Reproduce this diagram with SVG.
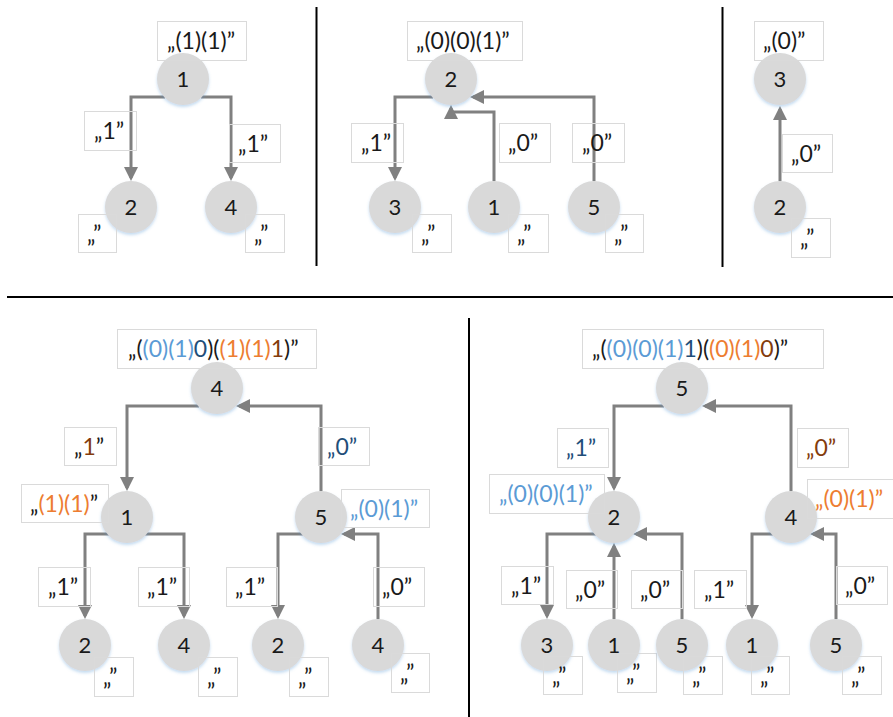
<svg xmlns="http://www.w3.org/2000/svg" width="893" height="717" viewBox="0 0 893 717">
  <style>
    text { font-family: Lato, "Liberation Sans", sans-serif; font-size: 23px; fill: #1a1a1a; }
    .node circle { fill: #d9d9d9; filter: url(#glow); }
    .num { text-anchor: middle; font-size: 22px; }
    .box { fill: none; stroke: #dadada; stroke-width: 1; }
    .edge { fill: none; stroke: #808080; stroke-width: 3; marker-end: url(#arrow); }
    .divider { stroke: #000; stroke-width: 2; }
    .lb { fill: #5b9bd5; }
    .db { fill: #1f4e79; }
    .or { fill: #ed7d31; }
    .br { fill: #843c0c; }
  </style>
  <defs>
    <marker id="arrow" markerUnits="userSpaceOnUse" markerWidth="14" markerHeight="14" viewBox="0 0 14 14" refX="11" refY="7" orient="auto">
      <path d="M0,0 L14,7 L0,14 z" fill="#808080"/>
    </marker>
    <filter id="glow" x="-30%" y="-30%" width="160%" height="170%">
      <feDropShadow dx="0" dy="2" stdDeviation="1.5" flood-color="#5b9bd5" flood-opacity="0.35"/>
    </filter>
  </defs>

  <!-- panel dividers -->
  <g id="dividers">
    <line class="divider" x1="316.5" y1="7" x2="316.5" y2="266"/>
    <line class="divider" x1="722.5" y1="7" x2="722.5" y2="267"/>
    <line class="divider" x1="7" y1="297" x2="893" y2="297"/>
    <line class="divider" x1="469" y1="318" x2="469" y2="717"/>
  </g>

  <!-- connectors -->
  <g id="connectors">
    <!-- tree A -->
    <path class="edge" d="M165,97 H131 V178"/>
    <path class="edge" d="M201,97 H231 V178"/>
    <!-- tree B -->
    <path class="edge" d="M433,97 H395 V178"/>
    <path class="edge" d="M494,181 V112 H451 V108"/>
    <path class="edge" d="M594,181 V97 H473"/>
    <!-- tree C -->
    <path class="edge" d="M780,181 V109"/>
    <!-- tree D -->
    <path class="edge" d="M199,406 H127 V488"/>
    <path class="edge" d="M321,491 V406 H239"/>
    <path class="edge" d="M109,534 H85 V616"/>
    <path class="edge" d="M145,534 H184 V616"/>
    <path class="edge" d="M303,534 H278 V616"/>
    <path class="edge" d="M378,619 V534 H344"/>
    <!-- tree E -->
    <path class="edge" d="M664,406 H614 V488"/>
    <path class="edge" d="M791,491 V406 H705"/>
    <path class="edge" d="M596,534 H547 V616"/>
    <path class="edge" d="M614,619 V546"/>
    <path class="edge" d="M682,619 V534 H636"/>
    <path class="edge" d="M773,534 H752 V616"/>
    <path class="edge" d="M836,619 V534 H813"/>
  </g>

  <!-- tree A -->
  <g id="a-n1" class="node">
    <circle cx="183" cy="79" r="26"/><text class="num" x="183" y="86.5">1</text>
    <rect class="box" x="157.5" y="21.5" width="89" height="39"/><text x="167" y="49">„(1)(1)”</text>
  </g>
  <g id="a-n2" class="node">
    <circle cx="131" cy="207" r="26"/><text class="num" x="131" y="214.5">2</text>
    <rect class="box" x="78.5" y="214.5" width="38" height="38"/><text x="87" y="242">„”</text>
  </g>
  <g id="a-n4" class="node">
    <circle cx="231" cy="207" r="26"/><text class="num" x="231" y="214.5">4</text>
    <rect class="box" x="245.5" y="214.5" width="39" height="38"/><text x="254" y="242">„”</text>
  </g>
  <g id="a-edge-labels">
    <rect class="box" x="84.5" y="111.5" width="52" height="39"/><text x="94" y="139">„1”</text>
    <rect class="box" x="229.5" y="124.5" width="51" height="38"/><text x="238" y="152">„1”</text>
  </g>

  <!-- tree B -->
  <g id="b-n2" class="node">
    <circle cx="451" cy="79" r="26"/><text class="num" x="451" y="86.5">2</text>
    <rect class="box" x="407.5" y="21.5" width="115" height="39"/><text x="416" y="49">„(0)(0)(1)”</text>
  </g>
  <g id="b-n3" class="node">
    <circle cx="395" cy="207" r="26"/><text class="num" x="395" y="214.5">3</text>
    <rect class="box" x="412.5" y="214.5" width="39" height="38"/><text x="421" y="242">„”</text>
  </g>
  <g id="b-n1" class="node">
    <circle cx="494" cy="207" r="26"/><text class="num" x="494" y="214.5">1</text>
    <rect class="box" x="508.5" y="214.5" width="40" height="38"/><text x="517" y="242">„”</text>
  </g>
  <g id="b-n5" class="node">
    <circle cx="594" cy="207" r="26"/><text class="num" x="594" y="214.5">5</text>
    <rect class="box" x="605.5" y="214.5" width="38" height="38"/><text x="614" y="242">„”</text>
  </g>
  <g id="b-edge-labels">
    <rect class="box" x="351.5" y="123.5" width="52" height="39"/><text x="361" y="151">„1”</text>
    <rect class="box" x="499.5" y="123.5" width="51" height="39"/><text x="508" y="151">„0”</text>
    <rect class="box" x="572.5" y="123.5" width="52" height="39"/><text x="582" y="151">„0”</text>
  </g>

  <!-- tree C -->
  <g id="c-n3" class="node">
    <circle cx="780" cy="79" r="26"/><text class="num" x="780" y="86.5">3</text>
    <rect class="box" x="754.5" y="21.5" width="69" height="39"/><text x="763" y="49">„(0)”</text>
  </g>
  <g id="c-n2" class="node">
    <circle cx="780" cy="207" r="26"/><text class="num" x="780" y="214.5">2</text>
    <rect class="box" x="791.5" y="218.5" width="39" height="39"/><text x="800" y="246">„”</text>
  </g>
  <g id="c-edge-labels">
    <rect class="box" x="782.5" y="134.5" width="50" height="38"/><text x="791" y="162">„0”</text>
  </g>

  <!-- tree D -->
  <g id="d-n4" class="node">
    <circle cx="217" cy="388" r="26"/><text class="num" x="217" y="395.5">4</text>
    <rect class="box" x="117.5" y="329.5" width="199" height="39"/>
    <text x="128" y="357">„(<tspan class="lb">(0)(1)</tspan><tspan class="db">0</tspan>)(<tspan class="or">(1)(1)</tspan><tspan class="br">1</tspan>)”</text>
  </g>
  <g id="d-n1" class="node">
    <circle cx="127" cy="517" r="26"/><text class="num" x="127" y="524.5">1</text>
    <rect class="box" x="21.5" y="484.5" width="87" height="38"/>
    <text x="30" y="512">„<tspan class="or">(1)(1)</tspan>”</text>
  </g>
  <g id="d-n5" class="node">
    <circle cx="321" cy="517" r="26"/><text class="num" x="321" y="524.5">5</text>
    <rect class="box" x="341.5" y="489.5" width="88" height="38"/>
    <text class="lb" x="350" y="517">„(0)(1)”</text>
  </g>
  <g id="d-n2a" class="node">
    <circle cx="85" cy="645" r="26"/><text class="num" x="85" y="652.5">2</text>
    <rect class="box" x="94.5" y="657.5" width="39" height="39"/><text x="103" y="685">„”</text>
  </g>
  <g id="d-n4a" class="node">
    <circle cx="184" cy="645" r="26"/><text class="num" x="184" y="652.5">4</text>
    <rect class="box" x="198.5" y="657.5" width="39" height="39"/><text x="207" y="685">„”</text>
  </g>
  <g id="d-n2b" class="node">
    <circle cx="278" cy="645" r="26"/><text class="num" x="278" y="652.5">2</text>
    <rect class="box" x="289.5" y="657.5" width="39" height="39"/><text x="298" y="685">„”</text>
  </g>
  <g id="d-n4b" class="node">
    <circle cx="378" cy="645" r="26"/><text class="num" x="378" y="652.5">4</text>
    <rect class="box" x="391.5" y="653.5" width="38" height="39"/><text x="400" y="681">„”</text>
  </g>
  <g id="d-edge-labels">
    <rect class="box" x="64.5" y="427.5" width="52" height="38"/><text x="74" y="455">„<tspan class="br">1</tspan>”</text>
    <rect class="box" x="318.5" y="427.5" width="51" height="38"/><text class="db" x="327" y="455">„0”</text>
    <rect class="box" x="38.5" y="567.5" width="52" height="39"/><text x="48" y="595">„1”</text>
    <rect class="box" x="138.5" y="567.5" width="51" height="39"/><text x="147" y="595">„1”</text>
    <rect class="box" x="226.5" y="567.5" width="51" height="39"/><text x="235" y="595">„1”</text>
    <rect class="box" x="373.5" y="567.5" width="51" height="39"/><text x="382" y="595">„0”</text>
  </g>

  <!-- tree E -->
  <g id="e-n5" class="node">
    <circle cx="682" cy="388" r="26"/><text class="num" x="682" y="395.5">5</text>
    <rect class="box" x="582.5" y="329.5" width="241" height="39"/>
    <text x="592" y="357">„(<tspan class="lb">(0)(0)(1)</tspan><tspan class="db">1</tspan>)(<tspan class="or">(0)(1)</tspan><tspan class="br">0</tspan>)”</text>
  </g>
  <g id="e-n2" class="node">
    <circle cx="614" cy="517" r="26"/><text class="num" x="614" y="524.5">2</text>
    <rect class="box" x="489.5" y="474.5" width="115" height="39"/>
    <text class="lb" x="499" y="502">„(0)(0)(1)”</text>
  </g>
  <g id="e-n4" class="node">
    <circle cx="791" cy="517" r="26"/><text class="num" x="791" y="524.5">4</text>
    <rect class="box" x="807.5" y="479.5" width="90" height="39"/>
    <text class="or" x="815" y="507">„(0)(1)”</text>
  </g>
  <g id="e-n3" class="node">
    <circle cx="547" cy="645" r="26"/><text class="num" x="547" y="652.5">3</text>
    <rect class="box" x="543.5" y="656.5" width="39" height="38"/><text x="552" y="684">„”</text>
  </g>
  <g id="e-n1a" class="node">
    <circle cx="614" cy="645" r="26"/><text class="num" x="614" y="652.5">1</text>
    <rect class="box" x="617.5" y="653.5" width="39" height="39"/><text x="626" y="681">„”</text>
  </g>
  <g id="e-n5a" class="node">
    <circle cx="682" cy="645" r="26"/><text class="num" x="682" y="652.5">5</text>
    <rect class="box" x="683.5" y="656.5" width="39" height="38"/><text x="692" y="684">„”</text>
  </g>
  <g id="e-n1b" class="node">
    <circle cx="752" cy="645" r="26"/><text class="num" x="752" y="652.5">1</text>
    <rect class="box" x="751.5" y="656.5" width="38" height="38"/><text x="760" y="684">„”</text>
  </g>
  <g id="e-n5b" class="node">
    <circle cx="836" cy="645" r="26"/><text class="num" x="836" y="652.5">5</text>
    <rect class="box" x="842.5" y="656.5" width="39" height="38"/><text x="851" y="684">„”</text>
  </g>
  <g id="e-edge-labels">
    <rect class="box" x="557.5" y="428.5" width="51" height="39"/><text class="db" x="566" y="456">„1”</text>
    <rect class="box" x="797.5" y="428.5" width="51" height="39"/><text class="br" x="806" y="456">„0”</text>
    <rect class="box" x="501.5" y="566.5" width="52" height="38"/><text x="511" y="594">„1”</text>
    <rect class="box" x="566.5" y="570.5" width="51" height="38"/><text x="575" y="598">„0”</text>
    <rect class="box" x="631.5" y="570.5" width="51" height="38"/><text x="640" y="598">„0”</text>
    <rect class="box" x="694.5" y="570.5" width="52" height="38"/><text x="704" y="598">„1”</text>
    <rect class="box" x="836.5" y="566.5" width="51" height="38"/><text x="845" y="594">„0”</text>
  </g>
</svg>
